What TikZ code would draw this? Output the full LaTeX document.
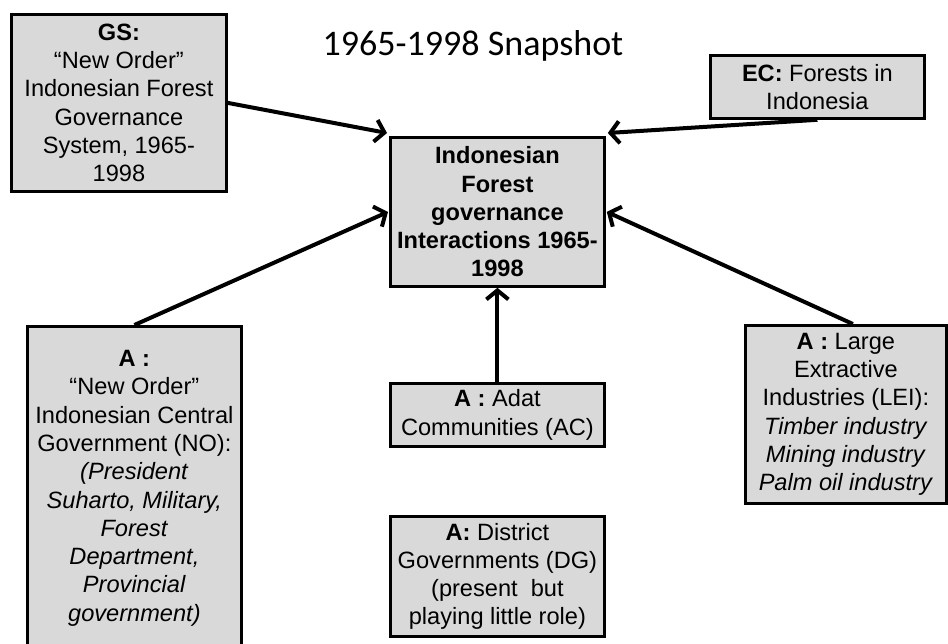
\documentclass[tikz,border=0pt]{standalone}
\usepackage{fontspec}
\setmainfont{Liberation Sans}
\newfontfamily\titlefont{Carlito}
\usepackage{xcolor}
\usepackage{tikz}
\usetikzlibrary{arrows.meta, positioning}

\begin{document}
\begin{tikzpicture}[x=1pt, y=-1pt,
    % Styles
    actor/.style={
        rectangle,
        fill=black!15,
        draw=black,
        line width=2.8pt,
        inner sep=0pt,
        anchor=north west,
        align=center,
        font=\fontsize{23.6}{28.3}\selectfont
    },
    link/.style={
        line width=4pt,
        -{Straight Barb[length=9pt, width=22pt, line width=4pt]}
    },
    heading/.style={
        font=\titlefont\fontsize{36}{40}\selectfont,
        inner sep=0pt,
        anchor=base
    }
]
\useasboundingbox (0,0) rectangle (948,643);
\clip (0,0) rectangle (948,643);

% Title
\node[heading] (title) at (473,55) {1965-1998 Snapshot};

% Governance system and ecological context
\node[actor, minimum width=215, minimum height=177] (gs) at (10,13) {
    \textbf{GS:}\\
    ``New Order''\\
    Indonesian Forest\\
    Governance\\
    System, 1965-\\
    1998
};

\node[actor, minimum width=214, minimum height=63] (ec) at (709,54) {
    \textbf{EC:} Forests in\\
    Indonesia
};

% Focal interactions
\node[actor, minimum width=214, minimum height=149] (focal) at (389,136) {
    \textbf{Indonesian}\\
    \textbf{Forest}\\
    \textbf{governance}\\
    \textbf{Interactions 1965-}\\
    \textbf{1998}
};

% Actors
\node[actor, minimum width=214, minimum height=347] (no) at (26,325) {
    \textbf{A :}\\
    ``New Order''\\
    Indonesian Central\\
    Government (NO):\\
    \textit{(President}\\
    \textit{Suharto, Military,}\\
    \textit{Forest}\\
    \textit{Department,}\\
    \textit{Provincial}\\
    \textit{government)}\\
    ~
};

\node[actor, minimum width=214, minimum height=63] (ac) at (389,382) {
    \textbf{A :} Adat\\
    Communities (AC)
};

\node[actor, minimum width=214, minimum height=120] (dg) at (389,515) {
    \textbf{A:} District\\
    Governments (DG)\\
    (present\ \ but\\
    playing little role)
};

\node[actor, minimum width=201, minimum height=178] (lei) at (744,324) {
    \textbf{A :} Large\\
    Extractive\\
    Industries (LEI):\\
    \textit{Timber industry}\\
    \textit{Mining industry}\\
    \textit{Palm oil industry}
};

% Connectors
\draw[link] (gs.east) -- ([xshift=-2pt, yshift=3pt]focal.north west);
\draw[link] (ec.south) -- ([xshift=2pt, yshift=3pt]focal.north east);
\draw[link] (no.north) -- ([xshift=-1pt]focal.west);
\draw[link] ([xshift=7pt]lei.north) -- ([xshift=1pt]focal.east);
\draw[link] (ac.north) -- (focal.south);

\end{tikzpicture}
\end{document}
